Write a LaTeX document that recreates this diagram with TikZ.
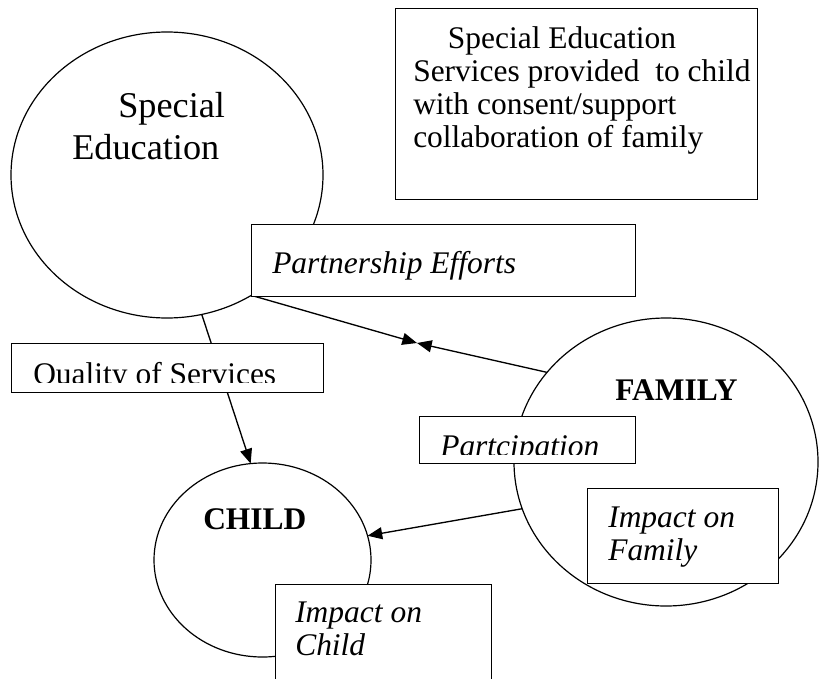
\documentclass[tikz,border=0pt]{standalone}
\usepackage{fontspec}
\setmainfont{Liberation Serif}
\usepackage{tikz}
\usetikzlibrary{shapes.geometric, arrows.meta, positioning}

\begin{document}
\begin{tikzpicture}[x=0.75pt, y=-0.75pt,
    blob/.style={draw, ellipse, line width=0.9pt, fill=white, inner sep=0pt, outer sep=0pt},
    tag/.style={draw, rectangle, line width=1.1pt, fill=white, inner sep=0pt, anchor=north west},
    txt/.style={anchor=base west, inner sep=0pt, align=left, font=\fontsize{23.6}{24.75}\selectfont},
    link/.style={line width=1pt, -{Triangle[length=11pt, width=9pt]}}]
\useasboundingbox (0,0) rectangle (820,678);
% the three circles
\node[blob, minimum width=234pt, minimum height=214.5pt] (sped) at (167,175) {};
\node[blob, minimum width=228pt, minimum height=216pt] (family) at (666,462) {};
\node[blob, minimum width=162.75pt, minimum height=145.5pt] (child) at (262.5,560) {};
\node[txt, font=\fontsize{27.2}{31.5}\selectfont] (spedtxt) at (72,159) {\hspace*{34.5pt}Special\\Education};
\node[txt, font=\fontsize{23.6}{24.75}\selectfont\bfseries] (familytxt) at (615,400) {FAMILY};
\node[txt, font=\fontsize{23.6}{24.75}\selectfont\bfseries] (childtxt) at (203,529) {CHILD};
% connectors
\coordinate (meet) at (417,343);
\draw[link] (sped.-76) -- (child.97);
\draw[link] (sped.-55) -- (meet);
\draw[link] (family.143) -- (meet);
\draw[link] (family.198) -- (child.13);
% boxes
\node[tag, minimum width=271.5pt, minimum height=143.25pt] (about) at (395,8) {};
\node[txt] (abouttxt) at (413,147) {\hspace*{26pt}Special Education\\Services provided\ \ to child\\with consent/support\\collaboration of family};
\node[tag, minimum width=288pt, minimum height=54pt] (partner) at (251,224) {};
\node[txt, font=\fontsize{23.6}{24.75}\selectfont\itshape] (partnertxt) at (272,273) {Partnership Efforts};
\node[tag, minimum width=234pt, minimum height=36.75pt] (quality) at (11,343) {};
\begin{scope}
  \clip (11,343) rectangle (323,382);
  \node[txt] (qualitytxt) at (33,384) {Quality of Services};
\end{scope}
\node[tag, minimum width=162pt, minimum height=35.25pt] (partcip) at (419,416) {};
\begin{scope}
  \clip (419,416) rectangle (635,454);
  \node[txt, font=\fontsize{23.6}{24.75}\selectfont\itshape] (partciptxt) at (440,456) {Partcipation};
\end{scope}
\node[tag, minimum width=143.25pt, minimum height=71.25pt] (impfam) at (587,488) {};
\node[txt, font=\fontsize{23.6}{24.75}\selectfont\itshape] (impfamtxt) at (608,560) {Impact on\\Family};
\node[tag, minimum width=162pt, minimum height=75pt] (impchild) at (275,584) {};
\node[txt, font=\fontsize{23.6}{24.75}\selectfont\itshape] (impchildtxt) at (295,655) {Impact on\\Child};
\end{tikzpicture}
\end{document}
